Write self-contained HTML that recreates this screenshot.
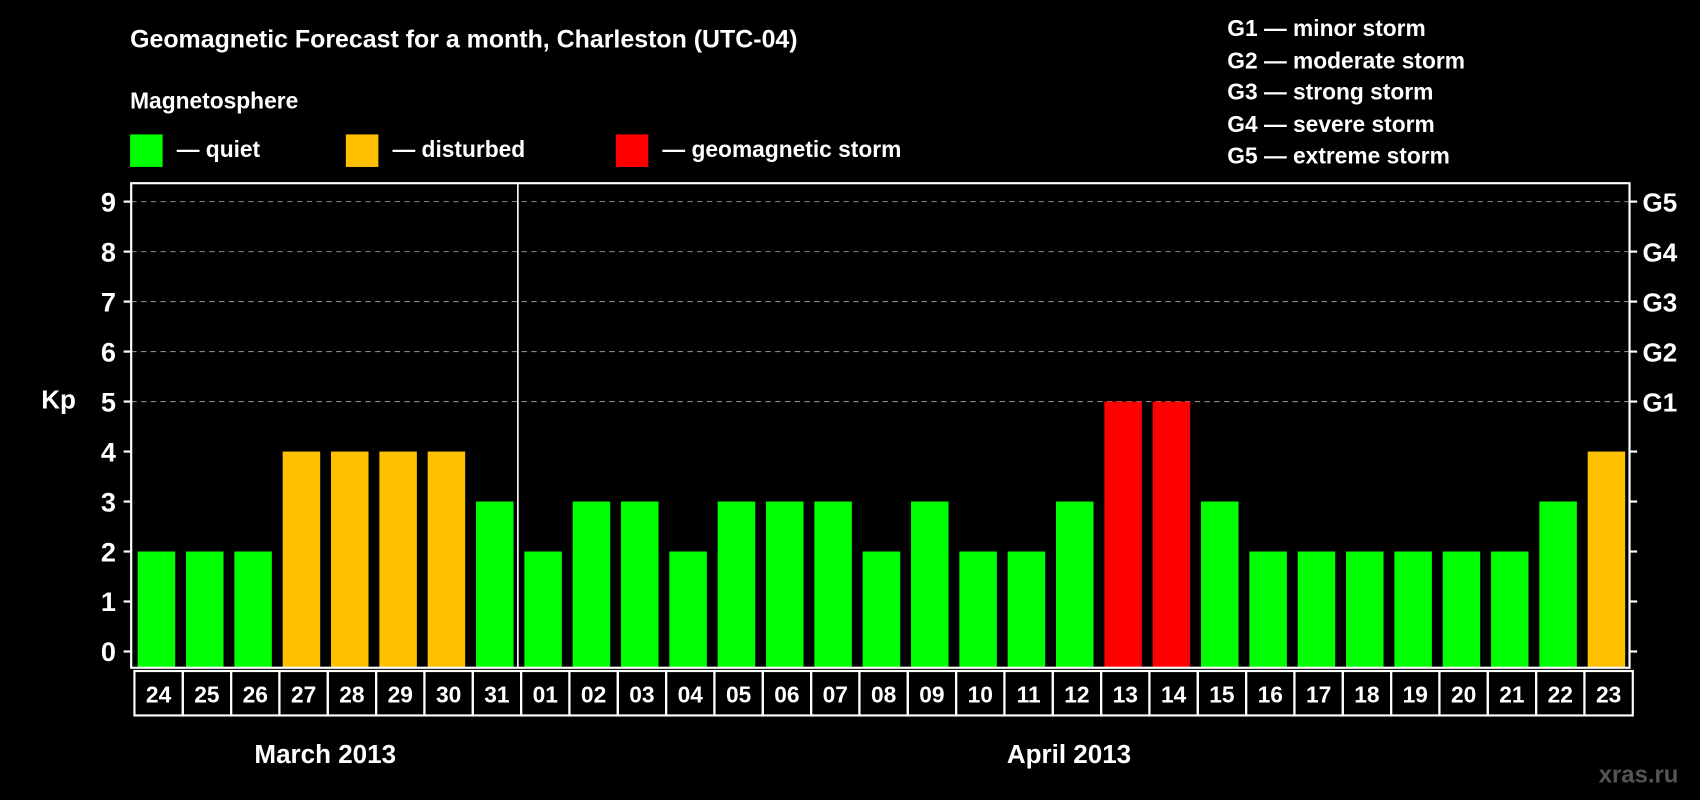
<!DOCTYPE html>
<html><head><meta charset="utf-8"><style>
html,body{margin:0;padding:0;background:#000;width:1700px;height:800px;overflow:hidden}
svg{display:block}
text{font-family:"Liberation Sans",Arial,sans-serif;font-weight:bold;fill:#fff}
</style></head><body>
<svg id="chart" width="1700" height="800" viewBox="0 0 1568 738" preserveAspectRatio="none">
<rect width="1568" height="738" fill="#000"/>
<text x="120" y="44" font-size="23">Geomagnetic Forecast for a month, Charleston (UTC-04)</text>
<text x="120" y="100" font-size="21">Magnetosphere</text>
<rect x="120" y="124" width="30" height="30" fill="#00ff00"/>
<text x="163" y="145" font-size="21">— quiet</text>
<rect x="319" y="124" width="30" height="30" fill="#ffc000"/>
<text x="362" y="145" font-size="21">— disturbed</text>
<rect x="568" y="124" width="30" height="30" fill="#ff0000"/>
<text x="611" y="145" font-size="21">— geomagnetic storm</text>
<g font-size="21">
<text x="1132" y="33">G1 — minor storm</text>
<text x="1132" y="63">G2 — moderate storm</text>
<text x="1132" y="92">G3 — strong storm</text>
<text x="1132" y="122">G4 — severe storm</text>
<text x="1132" y="151">G5 — extreme storm</text>
</g>
<text x="38" y="377" font-size="24">Kp</text>
<text x="300" y="704" font-size="24" text-anchor="middle">March 2013</text>
<text x="986" y="704" font-size="24" text-anchor="middle">April 2013</text>
<text x="1548" y="722" font-size="22" text-anchor="end" fill="#555" style="fill:#555">xras.ru</text>
<g id="grid"></g><g id="bars"></g><g id="axes"></g>
</svg>
<script>
const days=["24","25","26","27","28","29","30","31","01","02","03","04","05","06","07","08","09","10","11","12","13","14","15","16","17","18","19","20","21","22","23"];
const kp=[2,2,2,4,4,4,4,3,2,3,3,2,3,3,3,2,3,2,2,3,5,5,3,2,2,2,2,2,2,3,4];
const yTicks=[0,1,2,3,4,5,6,7,8,9];
const gLabels=["G1","G2","G3","G4","G5"];
const NS="http://www.w3.org/2000/svg";
const L=121,R=1503,T=169,B=616,Y0=601,Y9=186;
const slot=(R-L)/days.length;
const y=v=>Y0-(Y0-Y9)*v/9;
const x=i=>L+slot*i;
function mk(tag,a,p){const e=document.createElementNS(NS,tag);for(const k in a)e.setAttribute(k,a[k]);p.appendChild(e);return e;}
const grid=document.getElementById('grid'),bars=document.getElementById('bars'),axes=document.getElementById('axes');
yTicks.forEach(v=>{
  if(v>=5){const g=mk('line',{x1:L,x2:R,y1:y(v),y2:y(v),stroke:'#888','stroke-dasharray':'5,4','stroke-width':1},grid);
  
  }
  const t1=mk('line',{x1:L-7,x2:L,y1:y(v),y2:y(v),stroke:'#fff','stroke-width':2},axes);
  
  
  const t2=mk('line',{x1:R,x2:R+7,y1:y(v),y2:y(v),stroke:'#fff','stroke-width':2},axes);
  
  
  const lb=mk('text',{x:L-14,y:y(v)+9,'font-size':25,'text-anchor':'end'},axes);lb.textContent=v;
  
  
  if(v>=5){const g=mk('text',{x:R+12,y:y(v)+9,'font-size':24},axes);g.textContent=gLabels[v-5];
  
  }
});
kp.forEach((v,i)=>{
  const c=v>=5?'#ff0000':v>=4?'#ffc000':'#00ff00';
  const r=mk('rect',{x:x(i)+6,y:y(v),width:slot-10,height:B-y(v),fill:c},bars);
  
  
  const b=mk('rect',{x:x(i)+3,y:B+3,width:slot,height:41,fill:'none',stroke:'#fff','stroke-width':2},axes);
  
  
  const t=mk('text',{x:x(i)+3+slot/2,y:B+32,'font-size':21,'text-anchor':'middle'},axes);t.textContent=days[i];
  
  
});
const f=mk('rect',{x:L,y:T,width:R-L,height:B-T,fill:'none',stroke:'#fff','stroke-width':2},axes);


const d=mk('line',{x1:x(8),x2:x(8),y1:T,y2:B,stroke:'#fff','stroke-width':1.5},axes);


</script>
</body></html>
